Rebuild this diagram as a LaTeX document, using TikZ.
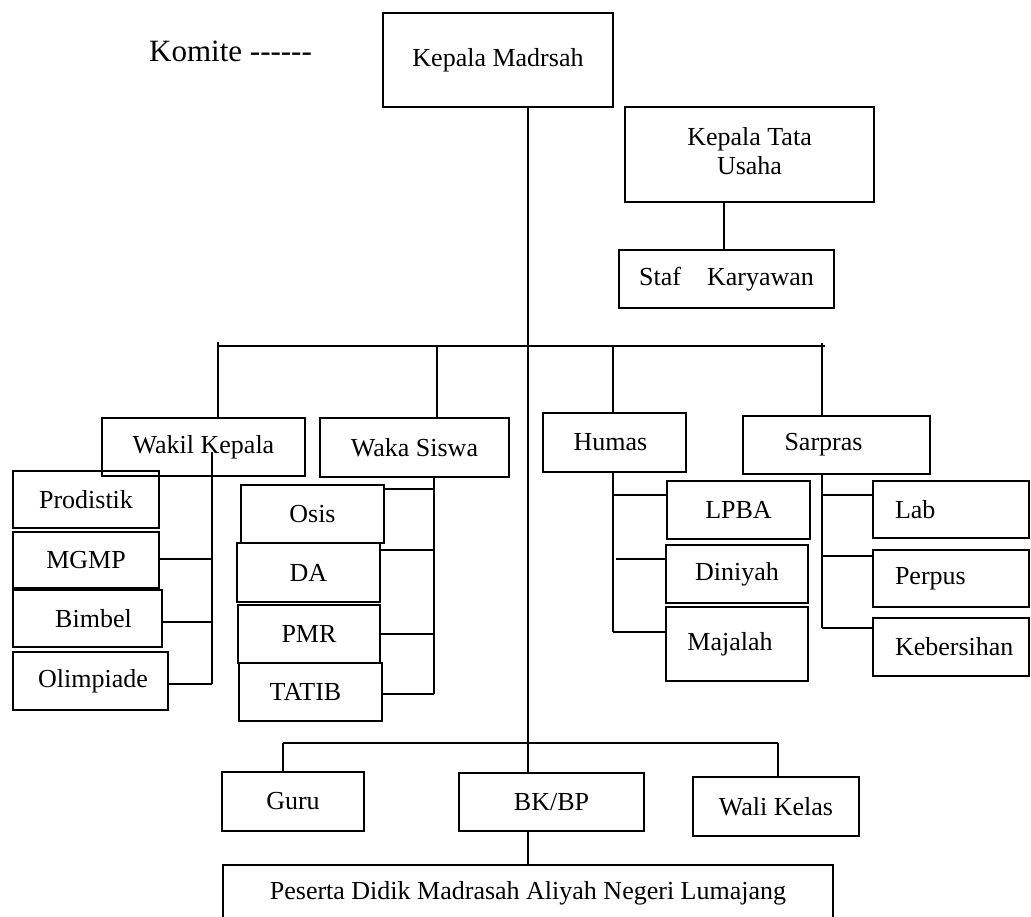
\documentclass[tikz,border=0pt]{standalone}
\usepackage{fontspec}
\setmainfont{Liberation Serif}
\newcommand\fs{\fontsize{26}{29}\selectfont}
\newcommand\bx[7][]{\node[box,#1,minimum width={#5-#3},minimum height={#6-#4}] (#2) at ({(#3+#5)/2},{(#4+#6)/2}) {#7};}
\tikzset{
  box/.style={draw,line width=2.8pt,inner sep=0pt,font=\fs,align=center},
  lbox/.style={text width={#1},align=left,inner xsep=22pt},
  conn/.style={line width=1.1pt},
}
\begin{document}
\begin{tikzpicture}[x=1pt,y=-1pt]
\useasboundingbox[fill=white] (0,0) rectangle (1031,917);
% title
\node[anchor=base west,inner sep=0pt,font=\fontsize{31}{36}\selectfont] (komite) at (149,62) {Komite -{}-{}-{}-{}-{}-};
% boxes
\bx{km}{383}{13}{613}{107}{Kepala Madrsah}
\bx{ktu}{625}{107}{874}{202}{\raisebox{4pt}{\begin{tabular}{@{}c@{}}Kepala Tata\\Usaha\end{tabular}}}
\bx{staf}{619}{250}{834}{308}{Staf\hspace{1em}Karyawan}
\bx{wakil}{102}{418}{305}{476}{Wakil Kepala}
\bx{waka}{320}{418}{509}{477}{Waka Siswa}
\bx{humas}{543}{413}{686}{472}{\hspace*{-8pt}Humas}
\bx{sarpras}{743}{416}{930}{474}{Sarpras\hspace*{26pt}}
\bx{prod}{13}{471}{159}{528}{Prodistik}
\bx{mgmp}{13}{532}{159}{588}{MGMP}
\bx{bimbel}{13}{590}{162}{647}{\hspace*{12pt}Bimbel}
\bx{olim}{13}{652}{168}{710}{\hspace*{5pt}Olimpiade}
\bx{osis}{241}{485}{384}{543}{Osis}
\bx{da}{237}{543}{380}{602}{DA}
\bx{pmr}{238}{605}{380}{663}{PMR}
\bx{tatib}{239}{663}{382}{721}{TATIB\hspace*{10pt}}
\bx{lpba}{667}{481}{810}{539}{LPBA}
\bx{diniyah}{666}{545}{808}{603}{Diniyah}
\bx{majalah}{666}{607}{808}{681}{Majalah\hspace*{14pt}}
\bx[lbox=112pt]{lab}{873}{481}{1029}{538}{Lab}
\bx[lbox=112pt]{perpus}{873}{550}{1029}{607}{Perpus}
\bx[lbox=112pt]{keber}{873}{618}{1029}{676}{Kebersihan}
\bx{guru}{222}{772}{364}{831}{Guru}
\bx{bk}{459}{773}{644}{831}{BK/BP}
\bx{wali}{693}{777}{859}{836}{Wali Kelas}
\bx{pes}{223}{865}{833}{921}{Peserta Didik Madrasah Aliyah Negeri Lumajang}
% spine
\coordinate (sp) at (528,743);
\draw[conn] (km.south -| sp) -- (bk.north -| sp);
\draw[conn] (bk.south -| sp) -- (pes.north -| sp);
% KTU -> staf
\coordinate (tu) at (724,202);
\draw[conn] (ktu.south -| tu) -- (staf.north -| tu);
% upper bar
\coordinate (bl) at (218,346);
\coordinate (br) at (825,346);
\draw[conn] (bl) -- (br);
\coordinate (dw) at (218,342);
\coordinate (dk) at (437,346);
\coordinate (dh) at (613,346);
\coordinate (ds) at (822,343);
\draw[conn] (dw) -- (wakil.north -| dw);
\draw[conn] (dk) -- (waka.north -| dk);
\draw[conn] (dh) -- (humas.north -| dh);
\draw[conn] (ds) -- (sarpras.north -| ds);
% wakil children
\coordinate (wt) at (212,452);
\coordinate (wb) at (212,684);
\coordinate (w2) at (212,559);
\coordinate (w3) at (212,622);
\draw[conn] (wt) -- (wb);
\draw[conn] (w2 -| mgmp.east) -- (w2);
\draw[conn] (w3 -| bimbel.east) -- (w3);
\draw[conn] (wb -| olim.east) -- (wb);
% waka children
\coordinate (kt) at (434,477);
\coordinate (k1) at (434,489);
\coordinate (k2) at (434,550);
\coordinate (k3) at (434,634);
\coordinate (k4) at (434,694);
\draw[conn] (waka.south -| kt) -- (k4);
\draw[conn] (k1 -| osis.east) -- (k1);
\draw[conn] (k2 -| da.east) -- (k2);
\draw[conn] (k3 -| pmr.east) -- (k3);
\draw[conn] (k4 -| tatib.east) -- (k4);
% humas children
\coordinate (h0) at (613,472);
\coordinate (h1) at (613,495);
\coordinate (h2) at (616,559);
\coordinate (h3) at (613,632);
\draw[conn] (humas.south -| h0) -- (h3);
\draw[conn] (h1) -- (h1 -| lpba.west);
\draw[conn] (h2) -- (h2 -| diniyah.west);
\draw[conn] (h3) -- (h3 -| majalah.west);
% sarpras children
\coordinate (r0) at (822,474);
\coordinate (r1) at (822,495);
\coordinate (r2) at (822,556);
\coordinate (r3) at (822,628);
\draw[conn] (sarpras.south -| r0) -- (r3);
\draw[conn] (r1) -- (r1 -| lab.west);
\draw[conn] (r2) -- (r2 -| perpus.west);
\draw[conn] (r3) -- (r3 -| keber.west);
% bottom bar
\coordinate (gl) at (283,743);
\coordinate (gr) at (778,743);
\draw[conn] (gl) -- (gr);
\draw[conn] (gl) -- (guru.north -| gl);
\draw[conn] (gr) -- (wali.north -| gr);
\end{tikzpicture}
\end{document}
